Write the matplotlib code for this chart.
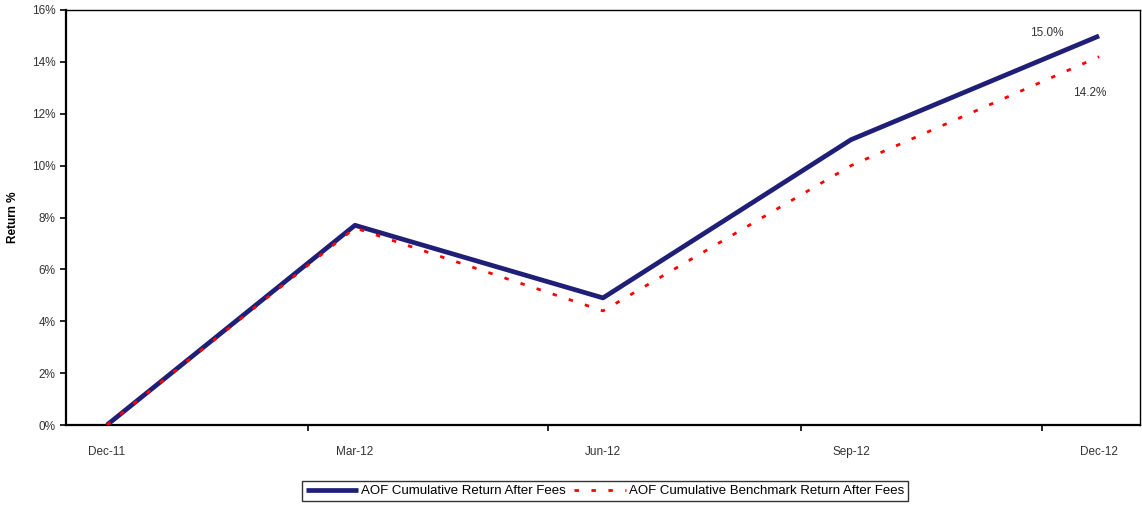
import matplotlib
matplotlib.use('Agg')
import matplotlib.pyplot as plt
from matplotlib.ticker import FuncFormatter

# datos
fechas = ['Dec-11', 'Mar-12', 'Jun-12', 'Sep-12', 'Dec-12']
aof = [0.0, 7.7, 4.9, 11.0, 15.0]
benchmark = [0.0, 7.6, 4.4, 10.0, 14.2]

plt.rcParams['font.family'] = ['Liberation Sans', 'DejaVu Sans']

fig = plt.figure(figsize=(11.42, 5.08), dpi=100)
ax = fig.add_axes([66 / 1142, 1 - 425 / 508, (1140 - 66) / 1142, (425 - 10) / 508])

x = list(range(len(fechas)))
ax.plot(x, aof, color='#1f1f78', linewidth=3.4, solid_capstyle='butt',
        label='AOF Cumulative Return After Fees', zorder=3)
ax.plot(x, benchmark, color='#ff0000', linewidth=2.0, linestyle=(0, (1.6, 4.5)),
        label='AOF Cumulative Benchmark Return After Fees', zorder=4)

# etiquetas del ultimo punto
ax.annotate('%.1f%%' % aof[-1], (x[-1], aof[-1]), xytext=(-50, 0),
            textcoords='offset points', fontsize=8.5, color='#333333')
ax.annotate('%.1f%%' % benchmark[-1], (x[-1], benchmark[-1]), xytext=(-19, -28),
            textcoords='offset points', fontsize=8.5, color='#333333')

ax.set_xlim(-0.165, 4.165)
ax.set_ylim(0, 16)
ax.set_yticks(range(0, 17, 2))
ax.yaxis.set_major_formatter(FuncFormatter(lambda v, p: '%d%%' % v))
ax.set_xticks(x)
ax.set_xticklabels(fechas)
ax.set_xticks([0.81, 1.78, 2.8, 3.77], minor=True)
ax.tick_params(axis='x', which='major', length=0, pad=15, labelsize=8.5, colors='#333333')
ax.tick_params(axis='x', which='minor', length=4, width=1.2, direction='out')
ax.tick_params(axis='y', length=4, width=1.2, labelsize=8.5, colors='#333333')
ax.tick_params(axis='both', which='both', color='black')

for s in ax.spines.values():
    s.set_linewidth(1.0)
ax.spines['left'].set_linewidth(1.6)
ax.spines['bottom'].set_linewidth(1.6)

ax.set_ylabel('Return %', fontsize=8.5, fontweight='bold', labelpad=9)

leg = fig.legend(loc='center', bbox_to_anchor=(605 / 1142, 1 - 491 / 508), ncol=2,
                 fontsize=9.5, frameon=True, fancybox=False, edgecolor='black',
                 handlelength=4, handletextpad=0.2, columnspacing=0.6,
                 borderpad=0.3)
leg.get_frame().set_linewidth(1.0)

plt.savefig('out.png', dpi=100)
